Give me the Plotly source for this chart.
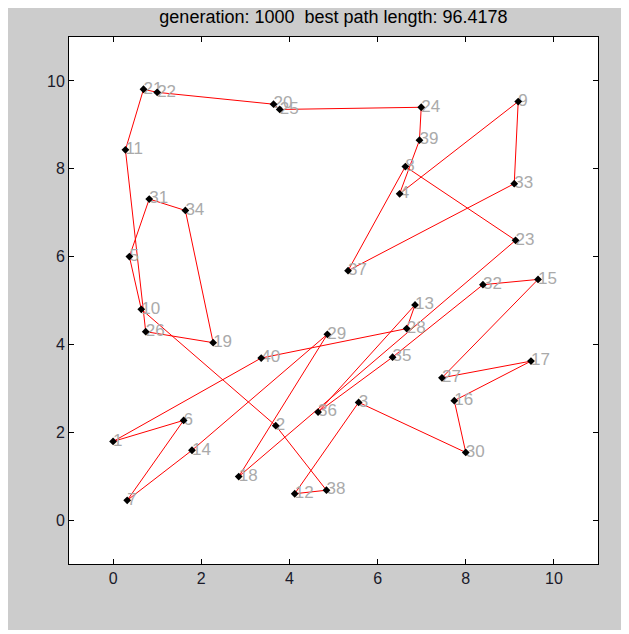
import plotly.graph_objects as go

# City coordinates (city id -> x, y)
city_ids = list(range(1, 41))
city_x = [0.00, 3.69, 5.57, 6.50, 0.37, 1.60, 0.32, 6.63, 9.19, 0.64,
          0.28, 4.12, 6.85, 1.79, 9.64, 7.74, 9.48, 2.85, 2.27, 3.64,
          0.69, 1.00, 9.13, 6.99, 3.78, 0.74, 7.46, 6.66, 4.86, 8.00,
          0.82, 8.39, 9.10, 1.64, 6.34, 4.65, 5.33, 4.84, 6.95, 3.36]
city_y = [1.79, 2.15, 2.68, 7.43, 6.00, 2.27, 0.45, 8.05, 9.53, 4.80,
          8.43, 0.60, 4.90, 1.59, 5.48, 2.72, 3.62, 0.99, 4.04, 9.47,
          9.81, 9.74, 6.37, 9.40, 9.35, 4.29, 3.24, 4.36, 4.23, 1.54,
          7.31, 5.36, 7.66, 7.05, 3.71, 2.46, 5.68, 0.68, 8.65, 3.69]

# Best tour (closed)
tour = [21, 22, 20, 25, 24, 39, 4, 9, 33, 37, 8, 23, 18, 29, 14, 7, 6, 1, 40, 28,
        13, 36, 35, 32, 15, 27, 17, 16, 30, 3, 12, 38, 2, 10, 5, 31, 34, 19, 26, 11, 21]

title_text = "generation: 1000\u00a0\u00a0best path length: 96.4178"
tick_vals = [0, 2, 4, 6, 8, 10]

tx = [city_x[c - 1] for c in tour]
ty = [city_y[c - 1] for c in tour]

W, H = 621, 626
ML, MR, MT, MB = 61, 31, 29, 70
PW, PH = W - ML - MR, H - MT - MB

fig = go.Figure()
fig.add_trace(go.Scatter(x=tx, y=ty, mode="lines",
                         line=dict(color="#ff0000", width=1), hoverinfo="skip"))
fig.add_trace(go.Scatter(x=city_x, y=city_y, mode="text",
                         text=[str(i) for i in city_ids], textposition="middle right",
                         textfont=dict(family="Liberation Sans, Arial", size=17, color="#aaaaaa")))
fig.add_trace(go.Scatter(x=city_x, y=city_y, mode="markers",
                         marker=dict(symbol="diamond", size=6, color="black")))

axis_common = dict(range=[-1, 11], tickvals=tick_vals, ticks="inside", ticklen=5,
                   tickcolor="black", showline=True, linecolor="black", linewidth=1,
                   mirror="ticks", showgrid=False, zeroline=False,
                   tickfont=dict(family="Liberation Sans, Arial", size=16, color="#1a1a2a"))


def px_x(p):
    return (p - ML) / PW


def px_y(p):
    return (H - MB - p) / PH


fig.update_layout(
    width=W, height=H,
    margin=dict(l=ML, r=MR, t=MT, b=MB),
    paper_bgcolor="#cccccc",
    plot_bgcolor="white",
    showlegend=False,
    title=dict(text=title_text, x=0.5, xanchor="center", xref="paper",
               y=1 - 9 / H, yref="container", yanchor="middle",
               font=dict(family="Liberation Sans, Arial", size=18, color="black")),
    xaxis=axis_common,
    yaxis=axis_common,
    shapes=[
        dict(type="rect", xref="paper", yref="paper", layer="below",
             x0=px_x(617), x1=px_x(W + 2), y0=px_y(H + 2), y1=px_y(-2),
             fillcolor="white", line=dict(width=0)),
        dict(type="rect", xref="paper", yref="paper", layer="below",
             x0=px_x(-2), x1=px_x(W + 2), y0=px_y(H + 2), y1=px_y(622),
             fillcolor="white", line=dict(width=0)),
    ],
)

fig.write_html("out.html")
